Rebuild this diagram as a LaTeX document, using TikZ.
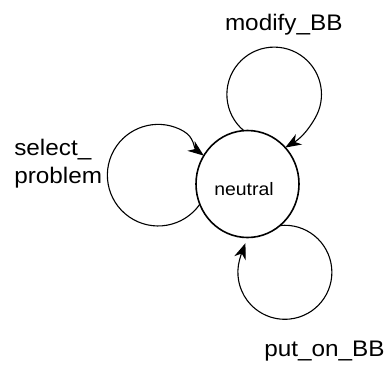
\documentclass[tikz,border=0pt]{standalone}
\usepackage{fontspec}
\usetikzlibrary{arrows.meta,shapes.geometric}
\newfontfamily\labfont[FakeStretch=1.08]{Liberation Sans}
\begin{document}
\begin{tikzpicture}[x=1pt,y=1pt,
  state/.style={ellipse,draw,line width=1.6pt,minimum width=103pt,minimum height=107pt,inner sep=0pt,outer sep=0pt},
  lab/.style={inner sep=0pt,outer sep=0pt,font=\labfont\fontsize{22.5}{28.3}\selectfont},
  statelab/.style={inner sep=0pt,outer sep=0pt,font=\labfont\fontsize{18}{22}\selectfont},
  loopline/.style={draw,line width=1.1pt,-{Stealth[length=16pt,width=12pt,inset=5pt]}}]
\useasboundingbox (0,0) rectangle (387,-370);
\node[state] (neutral) at (247.5,-184) {};
\node[statelab,anchor=base] (neutraltxt) at (244,-195) {neutral};
% left loop
\path[loopline] (neutral.203) arc[start angle=-34.9,end angle=-300,radius=50.8]
  to[out=-30,in=143] (neutral.147);
% top loop
\path[loopline] (neutral.94) arc[start angle=230,end angle=-30,radius=47.3]
  to[out=-120,in=31] (neutral.44);
% bottom loop
\path[loopline,shorten >=6pt] (neutral.-52) arc[start angle=96,end angle=-195,radius=47]
  to[out=75,in=250] (neutral.-90);
\node[lab,anchor=base west] (modlab) at (225,-30.3) {modify\_BB};
\node[lab,anchor=base west,align=left] (sellab) at (14.3,-183.3) {select\_\\problem};
\node[lab,anchor=base west] (putlab) at (264.3,-356.7) {put\_on\_BB};
\end{tikzpicture}
\end{document}
